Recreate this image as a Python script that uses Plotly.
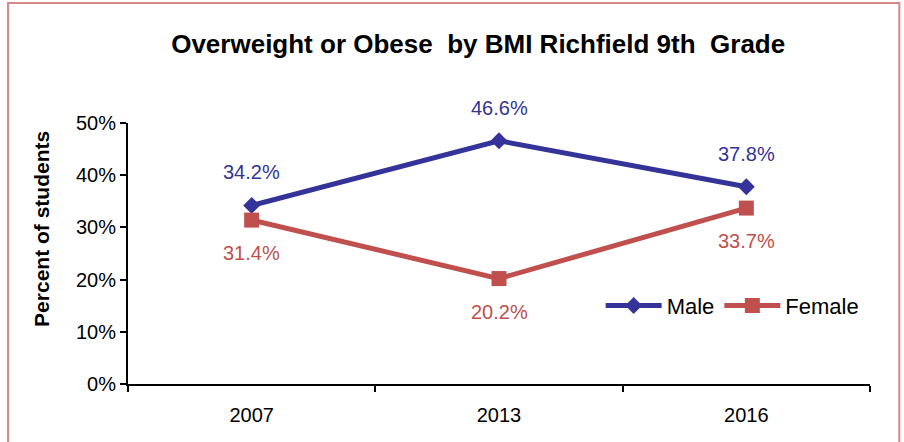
import plotly.graph_objects as go

years = ["2007", "2013", "2016"]
male = [34.2, 46.6, 37.8]
female = [31.4, 20.2, 33.7]
y_ticks = [0, 10, 20, 30, 40, 50]
y_tick_labels = ["0%", "10%", "20%", "30%", "40%", "50%"]

MALE_COLOR = "#333399"
FEMALE_COLOR = "#C0504D"
FONT = "Liberation Sans, Arial, sans-serif"

# categories placed at integer positions; boundary ticks drawn as minor ticks
xpos = list(range(len(years)))
boundaries = [i - 0.5 for i in range(len(years) + 1)]

fig = go.Figure()
fig.add_trace(go.Scatter(
    x=xpos, y=male, name="Male", mode="lines+markers",
    line=dict(color=MALE_COLOR, width=5),
    marker=dict(symbol="diamond", size=13, color=MALE_COLOR),
))
fig.add_trace(go.Scatter(
    x=xpos, y=female, name="Female", mode="lines+markers",
    line=dict(color=FEMALE_COLOR, width=5),
    marker=dict(symbol="square", size=15, color=FEMALE_COLOR),
))

# value labels: male above the points, female below
for xp, v in zip(xpos, male):
    fig.add_annotation(x=xp, y=v, text=f"{v:.1f}%", showarrow=False, yshift=33,
                       font=dict(family=FONT, size=20, color=MALE_COLOR))
for xp, v in zip(xpos, female):
    fig.add_annotation(x=xp, y=v, text=f"{v:.1f}%", showarrow=False, yshift=-33,
                       font=dict(family=FONT, size=20, color=FEMALE_COLOR))

# y-axis title
fig.add_annotation(xref="paper", yref="paper", x=-0.116, y=0.594,
                   text="<b>Percent of students</b>", textangle=-90, showarrow=False,
                   xanchor="center", yanchor="middle",
                   font=dict(family=FONT, size=21, color="black"))

# chart border
fig.add_shape(type="rect", xref="paper", yref="paper",
              x0=-0.1617, x1=1.0395, y0=-0.35, y1=1.4598,
              line=dict(color="#D98686", width=2), layer="below")

fig.update_layout(
    width=904, height=442,
    margin=dict(l=128, r=34, t=123, b=58),
    paper_bgcolor="white", plot_bgcolor="white",
    font=dict(family=FONT, size=20, color="black"),
    title=dict(text="<b>Overweight or Obese  by BMI Richfield 9th  Grade</b>",
               x=0.529, xanchor="center", y=0.9, yanchor="middle",
               font=dict(family=FONT, size=26, color="black")),
    showlegend=True,
    legend=dict(orientation="h", x=0.637, y=0.30, xanchor="left", yanchor="middle",
                bgcolor="rgba(0,0,0,0)", font=dict(family=FONT, size=22),
                itemwidth=56, tracegroupgap=0),
    xaxis=dict(range=[-0.5, len(years) - 0.5], tickmode="array",
               tickvals=xpos, ticktext=years, ticks="", ticklabelstandoff=12,
               minor=dict(tickmode="array", tickvals=boundaries, ticks="outside",
                          ticklen=6, tickwidth=1.5, tickcolor="black", showgrid=False),
               showline=True, linecolor="black", linewidth=2,
               showgrid=False, zeroline=False,
               tickfont=dict(family=FONT, size=20)),
    yaxis=dict(range=[0, 50], tickvals=y_ticks, ticktext=y_tick_labels,
               showline=True, linecolor="black", linewidth=2,
               ticks="outside", ticklen=6, tickwidth=1.5, tickcolor="black",
               showgrid=False, zeroline=False,
               tickfont=dict(family=FONT, size=20)),
)

fig.write_html("out.html")
